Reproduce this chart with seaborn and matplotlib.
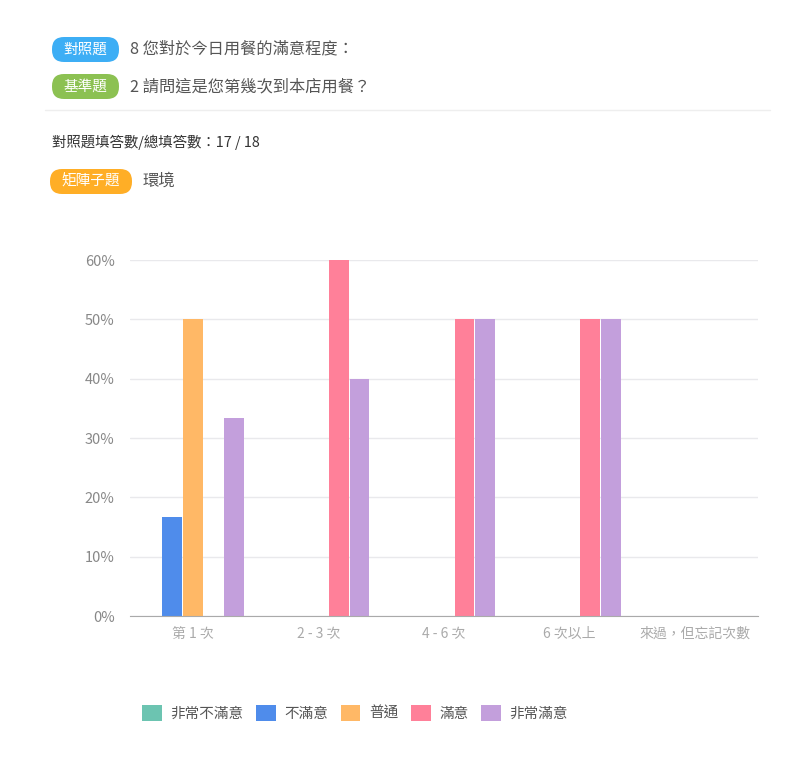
import pandas as pd
import seaborn as sns
import matplotlib.pyplot as plt
from matplotlib.patches import FancyBboxPatch, Patch
from matplotlib.ticker import FuncFormatter
from matplotlib.transforms import Bbox, TransformedBbox

# data
categories = ["第 1 次", "2 - 3 次", "4 - 6 次", "6 次以上", "來過，但忘記次數"]
levels = ["非常不滿意", "不滿意", "普通", "滿意", "非常滿意"]
level_colors = ["#6cc4b1", "#4f8ceb", "#ffb866", "#ff8099", "#c39fdc"]
very_unsatisfied = [0, 0, 0, 0, 0]
unsatisfied = [16.67, 0, 0, 0, 0]
normal = [50, 0, 0, 0, 0]
satisfied = [0, 60, 50, 50, 0]
very_satisfied = [33.33, 40, 50, 50, 0]
y_ticks = [0, 10, 20, 30, 40, 50, 60]

series = [very_unsatisfied, unsatisfied, normal, satisfied, very_satisfied]
rows = []
for lvl, vals in zip(levels, series):
    for cat, v in zip(categories, vals):
        rows.append({"category": cat, "level": lvl, "pct": v})
df = pd.DataFrame(rows)

sns.set_style("white")
plt.rcParams["font.family"] = ["Noto Sans CJK TC", "DejaVu Sans"]

fig = plt.figure(figsize=(8, 7.83), dpi=100)
fig.patch.set_facecolor("white")

# overlay in pixel units for the header
top = fig.add_axes([0, 0, 1, 1])
top.set_xlim(0, 800)
top.set_ylim(783, 0)
top.axis("off")


def pill(x, y, w, h, color, label):
    top.add_patch(FancyBboxPatch((x, y), w, h, boxstyle="round,pad=0,rounding_size=12",
                                 fc=color, ec="none"))
    top.text(x + w / 2, y + h / 2, label, color="white", fontsize=10.5,
             ha="center", va="center")


pill(52, 37, 67, 25, "#3daef5", "對照題")
top.text(130, 49, "8 您對於今日用餐的滿意程度：", fontsize=11.7, color="#555555", va="center")
pill(52, 74, 67, 25, "#8cc152", "基準題")
top.text(130, 87, "2 請問這是您第幾次到本店用餐？", fontsize=11.7, color="#555555", va="center")
top.plot([45, 770], [110, 110], color="#eeeeee", lw=1)
top.text(52, 142, "對照題填答數/總填答數：17 / 18", fontsize=10.4, color="#333333", va="center")
pill(50, 169, 82, 25, "#ffae26", "矩陣子題")
top.text(143, 181, "環境", fontsize=11.8, color="#555555", va="center")

# chart
ax = fig.add_axes([130 / 800, 1 - 616 / 783, 628 / 800, 356 / 783])
sns.barplot(data=df, x="category", y="pct", hue="level", order=categories,
            hue_order=levels, palette=level_colors, saturation=1, width=0.82,
            gap=0.05, linewidth=0, ax=ax, legend=False)
ax.set_ylim(0, 60)
ax.set_yticks(y_ticks)
ax.yaxis.set_major_formatter(FuncFormatter(lambda v, _: f"{v:.0f}%"))
ax.grid(axis="y", color="#e9e9ec", lw=1)
ax.set_axisbelow(True)
for s in ["top", "right", "left"]:
    ax.spines[s].set_visible(False)
ax.spines["bottom"].set_color("#aaaaaa")
ax.tick_params(axis="y", length=0, pad=11, labelsize=10.5, labelcolor="#888888")
ax.tick_params(axis="x", length=0, pad=8, labelsize=10, labelcolor="#aaaaaa")
ax.set_xlabel("")
ax.set_ylabel("")

clip = TransformedBbox(Bbox([[0, 0], [758 / 800, 1]]), fig.transFigure)
for lbl in ax.get_xticklabels():
    lbl.set_clip_on(True)
    lbl.set_clip_box(clip)

handles = [Patch(fc=c, ec="none", label=l) for l, c in zip(levels, level_colors)]
fig.legend(handles=handles, loc="center", bbox_to_anchor=(355 / 800, 1 - 713 / 783),
           ncol=5, frameon=False, fontsize=10.5, handlelength=1.35, handleheight=1.35,
           handletextpad=0.6, columnspacing=0.85, labelcolor="#555555")

fig.savefig("out.png", dpi=100)
